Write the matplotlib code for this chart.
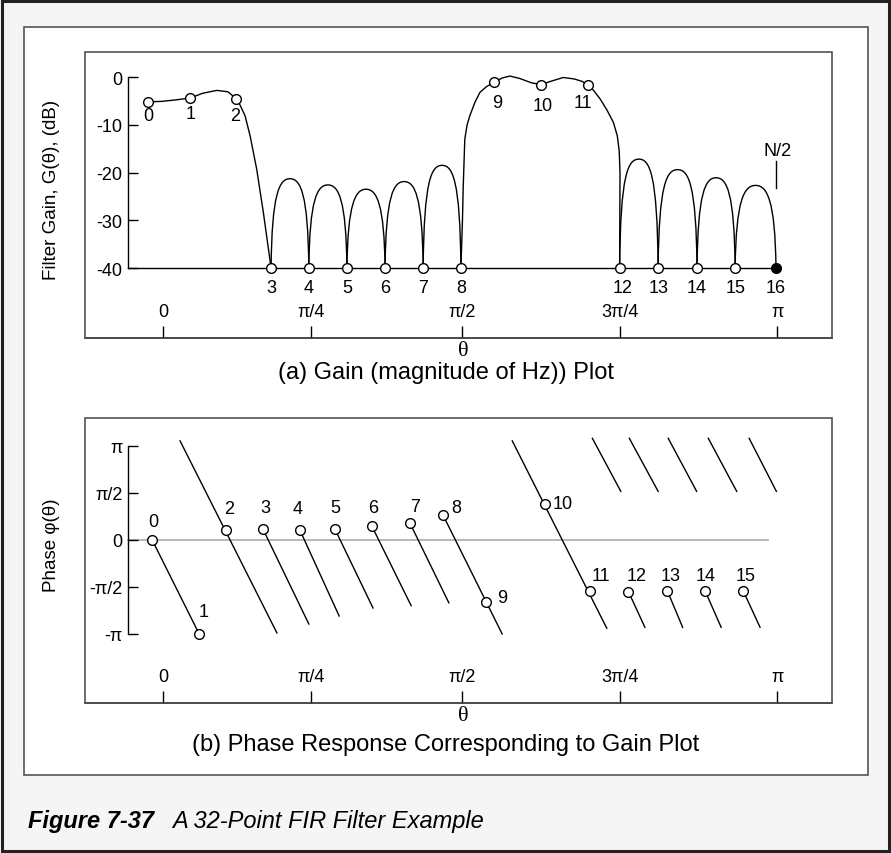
import numpy as np
import matplotlib
matplotlib.use('Agg')
import matplotlib.pyplot as plt
from matplotlib.patches import Rectangle, PathPatch
from matplotlib.path import Path

plt.rcParams['font.family'] = ['Liberation Sans', 'DejaVu Sans']

# x axis is in bin units (16 bins = pi)
theta_tick_x = [0.23, 4.04, 7.92, 11.98, 16.02]
theta_tick_lab = ['0', 'π/4', 'π/2', '3π/4', 'π']

# ---- (a) gain samples ----
gain_x = [-0.15, 0.93, 2.11, 3.01, 3.98, 4.96, 5.94, 6.92, 7.89,
          8.75, 9.94, 11.15, 11.97, 12.96, 13.96, 14.94, 15.99]
gain_db = [-5.2, -4.4, -4.5, -40, -40, -40, -40, -40, -40,
           -1.1, -1.6, -1.6, -40, -40, -40, -40, -40]

# passband curves
pass1_x = [-0.15, 0.2, 0.55, 0.93, 1.25, 1.62, 1.9, 2.11, 2.22, 2.34, 2.47, 2.64, 2.81, 3.01]
pass1_db = [-5.2, -5.1, -4.8, -4.4, -3.4, -2.8, -3.1, -4.5, -6.0, -8.1, -12.3, -19.3, -28.3, -40]
pass2_x = [7.89, 7.93, 7.95, 7.99, 8.05, 8.12, 8.25, 8.38, 8.55, 8.75, 8.95, 9.15, 9.4, 9.7, 9.94,
           10.2, 10.52, 10.8, 11.0, 11.15, 11.3, 11.47, 11.65, 11.81, 11.91, 11.96, 11.98, 11.97]
pass2_db = [-40, -30, -22.8, -13, -10, -8.1, -5.3, -3.2, -2.0, -1.1, -0.2, 0.2, -0.3, -1.2, -1.6,
            -0.9, -0.1, -0.4, -0.9, -1.6, -2.8, -4.6, -7.0, -9.5, -12.3, -15.5, -20, -40]

# sidelobe peaks between successive nulls 3-4 ... 7-8, 12-13 ... 15-16
lobe_peak = [-21.3, -22.6, -23.5, -21.9, -18.5, -17.2, -19.4, -21.1, -22.7]

# ---- (b) phase samples (units of pi) ----
phase_x = [-0.05, 1.16, 1.85, 2.80, 3.75, 4.65, 5.60, 6.58, 7.43, 8.53,
           10.05, 11.21, 12.19, 13.2, 14.17, 15.15]
phase_pi = [0, -1.0, 0.103, 0.114, 0.103, 0.114, 0.145, 0.177, 0.262, -0.66,
            0.379, -0.545, -0.55, -0.545, -0.545, -0.545]

# phase line segments (start / end)
seg_x0 = [-0.05, 0.67, 2.80, 3.75, 4.65, 5.60, 6.58, 7.43, 9.21,
          11.27, 12.22, 13.22, 14.25, 15.30, 12.19, 13.2, 14.17, 15.15]
seg_y0 = [0, 1.05, 0.114, 0.103, 0.114, 0.145, 0.177, 0.262, 1.05,
          1.077, 1.077, 1.077, 1.077, 1.077, -0.545, -0.545, -0.545, -0.545]
seg_x1 = [1.16, 3.16, 3.98, 4.76, 5.63, 6.61, 7.58, 8.95, 11.64,
          12.0, 12.96, 13.95, 14.98, 16.0, 12.62, 13.59, 14.58, 15.58]
seg_y1 = [-1.0, -0.99, -0.895, -0.81, -0.725, -0.70, -0.67, -1.0, -0.94,
          0.514, 0.514, 0.514, 0.514, 0.514, -0.93, -0.93, -0.93, -0.93]

# label offsets (pixels)
gain_lab_off = [(0, -14), (0, -15), (-1, -17)] + [(0, -19)] * 6 + \
               [(3, -20), (2, -21), (-5, -18)] + [(3, -19)] + [(0, -19)] * 4
phase_lab_off = [(1, 18), (4, 22), (3, 22), (2, 22), (-2, 22), (0, 22), (1, 19), (5, 17),
                 (13, 8), (16, 4), (18, 1), (11, 16), (8, 16), (3, 16), (0, 16), (2, 16)]

W, H = 891, 854
px2pt = 0.72
axis_x = -0.67


def fbox(x0, y0, x1, y1):
    return [x0 / W, 1 - y1 / H, (x1 - x0) / W, (y1 - y0) / H]


def lobe_path(x0, x1, pk, base=-40):
    w = x1 - x0
    xm = (x0 + x1) / 2
    verts = [(x0, base), (x0 + 0.02 * w, pk - 3), (x0 + 0.22 * w, pk), (xm, pk),
             (x1 - 0.22 * w, pk), (x1 - 0.02 * w, pk - 3), (x1, base)]
    return Path(verts, [Path.MOVETO] + [Path.CURVE4] * 6)


def setup(ax, ylim, yt, ytl, ybounds):
    ax.set_xlim(-1.774, 17.43)
    ax.set_ylim(*ylim)
    for s in ['top', 'right']:
        ax.spines[s].set_visible(False)
    ax.spines['bottom'].set_color('#444444')
    ax.spines['bottom'].set_linewidth(1.1)
    ax.add_patch(Rectangle((0, 0), 1, 1, transform=ax.transAxes, fill=False,
                           ec='#444444', lw=1.1, clip_on=False))
    ax.spines['left'].set_position(('data', axis_x))
    ax.spines['left'].set_bounds(*ybounds)
    ax.spines['left'].set_linewidth(1.0)
    ax.set_yticks(yt, ytl)
    ax.tick_params(axis='y', direction='in', length=7.5, width=1.0, pad=4, labelsize=13)
    ax.set_xticks(theta_tick_x, theta_tick_lab)
    ax.tick_params(axis='x', direction='in', length=8.5, width=1.0, pad=-25, labelsize=13)
    ax.set_xlabel('θ', fontsize=16, family=['Liberation Serif', 'DejaVu Serif'])
    ax.xaxis.label.set_va('center')
    ax.xaxis.set_label_coords(0.506, -0.043)


fig = plt.figure(figsize=(W / 100, H / 100), dpi=100)
fig.patch.set_facecolor('#f5f5f5')
fig.add_artist(Rectangle((2 / W, 2 / H), 887 / W, 850 / H, transform=fig.transFigure,
                         fill=False, ec='#222222', lw=2.2))
fig.add_artist(Rectangle((24 / W, 1 - 776 / H), 844 / W, 748 / H, transform=fig.transFigure,
                         fc='white', ec='#555555', lw=1.2, zorder=-1))

# ---------------- (a) gain ----------------
ax1 = fig.add_axes(fbox(85, 53, 832, 339))
setup(ax1, (-54.66, 5.24), [0, -10, -20, -30, -40], ['0', '-10', '-20', '-30', '-40'], (-40, 0))
ax1.set_ylabel('Filter Gain, G(θ), (dB)', fontsize=13.5)
ax1.yaxis.label.set_va('center')
ax1.yaxis.set_label_coords(-0.045, 0.521)

ax1.plot([axis_x, gain_x[16]], [-40, -40], color='black', lw=1.0)
ax1.plot(pass1_x, pass1_db, color='black', lw=1.0)
ax1.plot(pass2_x, pass2_db, color='black', lw=1.0)
nulls = [(3, 4), (4, 5), (5, 6), (6, 7), (7, 8), (12, 13), (13, 14), (14, 15), (15, 16)]
for (a, b), pk in zip(nulls, lobe_peak):
    ax1.add_patch(PathPatch(lobe_path(gain_x[a], gain_x[b], pk), fill=False, ec='black', lw=1.0))

ax1.plot(gain_x[:16], gain_db[:16], 'o', ms=7, mfc='white', mec='black', mew=1.0, zorder=5)
ax1.plot(gain_x[16], gain_db[16], 'o', ms=7, mfc='black', mec='black', mew=1.0, zorder=5)
for k, (x, y) in enumerate(zip(gain_x, gain_db)):
    dx, dy = gain_lab_off[k]
    ax1.annotate(str(k), (x, y), xytext=(dx * px2pt, dy * px2pt), textcoords='offset points',
                 ha='center', va='center', fontsize=13)

ax1.plot([gain_x[16], gain_x[16]], [-17.6, -23.2], color='black', lw=1.0)
ax1.text(gain_x[16] + 0.04, -15.3, 'N/2', ha='center', va='center', fontsize=13)

# ---------------- (b) phase ----------------
ax2 = fig.add_axes(fbox(85, 419, 832, 704))
setup(ax2, (-1.734 * np.pi, 1.293 * np.pi), [np.pi, np.pi / 2, 0, -np.pi / 2, -np.pi],
      ['π', 'π/2', '0', '-π/2', '-π'], (-np.pi, np.pi))
ax2.set_ylabel('Phase φ(θ)', fontsize=13.5)
ax2.yaxis.label.set_va('center')
ax2.yaxis.set_label_coords(-0.045, 0.558)

ax2.plot([axis_x, 15.78], [0, 0], color='#aaaaaa', lw=1.2, zorder=1)
for x0, y0, x1, y1 in zip(seg_x0, seg_y0, seg_x1, seg_y1):
    ax2.plot([x0, x1], [y0 * np.pi, y1 * np.pi], color='black', lw=1.0)
ph = np.array(phase_pi) * np.pi
ax2.plot(phase_x, ph, 'o', ms=7, mfc='white', mec='black', mew=1.0, zorder=5)
for k, (x, y) in enumerate(zip(phase_x, ph)):
    dx, dy = phase_lab_off[k]
    ax2.annotate(str(k), (x, y), xytext=(dx * px2pt, dy * px2pt), textcoords='offset points',
                 ha='center', va='center', fontsize=13)

# captions
fig.text(0.5, 1 - 373 / H, '(a) Gain (magnitude of Hz)) Plot', ha='center', va='center', fontsize=17)
fig.text(0.5, 1 - 745 / H, '(b) Phase Response Corresponding to Gain Plot', ha='center',
         va='center', fontsize=17)
fig.text(28 / W, 1 - 822 / H, 'Figure 7-37', fontsize=17, fontweight='bold', fontstyle='italic',
         va='center')
fig.text(172 / W, 1 - 822 / H, 'A 32-Point FIR Filter Example', fontsize=17, fontstyle='italic',
         va='center')

fig.savefig('out.png', dpi=100, facecolor=fig.get_facecolor())
